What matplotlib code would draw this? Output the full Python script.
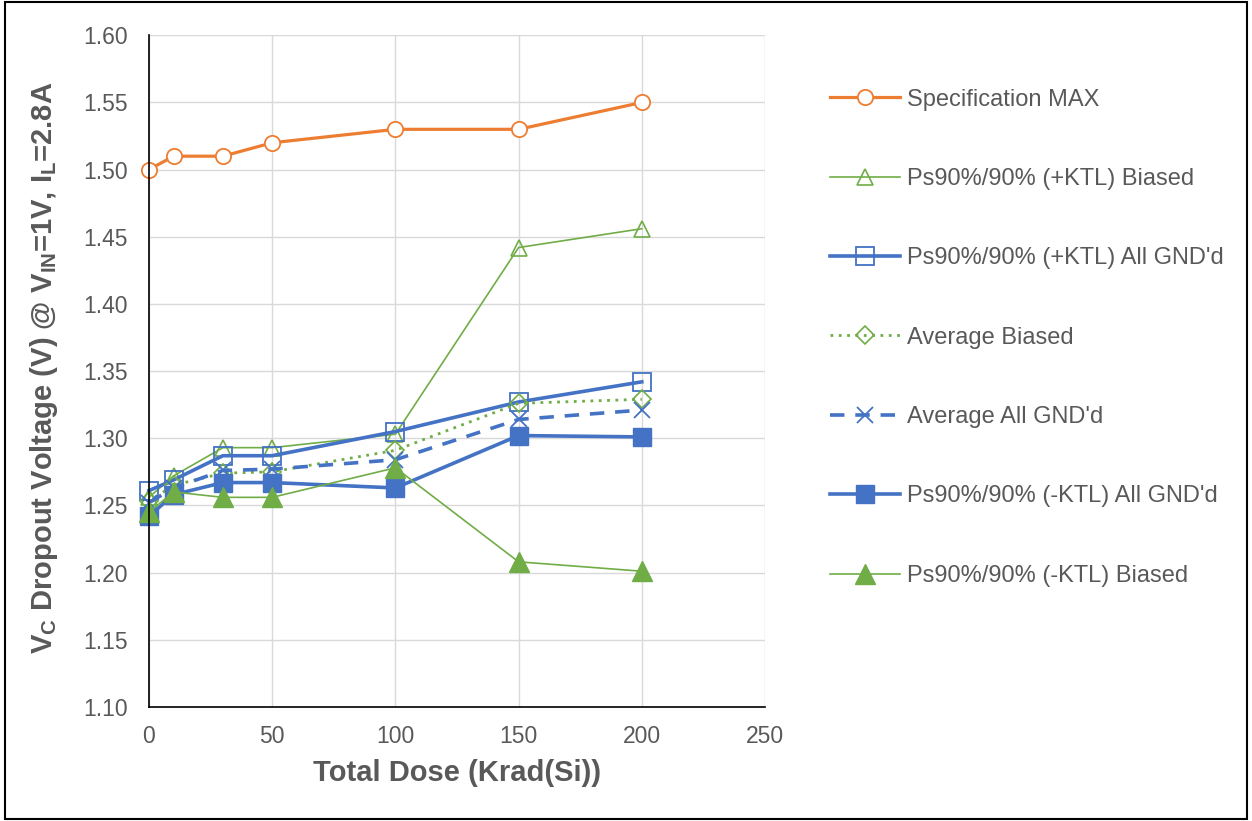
import matplotlib.pyplot as plt
from matplotlib.patches import Rectangle

plt.rcParams['font.family'] = ['Liberation Sans', 'DejaVu Sans']
plt.rcParams['mathtext.fontset'] = 'custom'
plt.rcParams['mathtext.bf'] = 'Liberation Sans:bold'
plt.rcParams['mathtext.rm'] = 'Liberation Sans'

dose = [0, 10, 30, 50, 100, 150, 200]

spec_max = [1.50, 1.51, 1.51, 1.52, 1.53, 1.53, 1.55]
ktl_plus_biased = [1.256, 1.272, 1.293, 1.293, 1.303, 1.442, 1.456]
ktl_plus_gnd = [1.261, 1.269, 1.287, 1.287, 1.305, 1.327, 1.342]
avg_biased = [1.253, 1.265, 1.274, 1.275, 1.291, 1.326, 1.329]
avg_gnd = [1.252, 1.263, 1.276, 1.277, 1.284, 1.314, 1.321]
ktl_minus_gnd = [1.242, 1.258, 1.267, 1.267, 1.263, 1.302, 1.301]
ktl_minus_biased = [1.245, 1.260, 1.256, 1.256, 1.278, 1.208, 1.201]

orange = '#ED7D31'
green = '#70AD47'
blue = '#4472C4'
grey = '#595959'

fig = plt.figure(figsize=(12.52, 8.21), dpi=100)
ax = fig.add_axes([0.119, 0.139, 0.492, 0.818])

ax.plot(dose, spec_max, color=orange, lw=2.3, marker='o', ms=11, mfc='white', mec=orange, mew=1.3,
        label='Specification MAX', clip_on=False)
ax.plot(dose, ktl_plus_biased, color=green, lw=1.2, marker='^', ms=12, mfc='none', mec=green, mew=1.2,
        label='Ps90%/90% (+KTL) Biased', clip_on=False)
ax.plot(dose, ktl_plus_gnd, color=blue, lw=2.6, marker='s', ms=12.5, mfc='none', mec=blue, mew=1.3,
        label="Ps90%/90% (+KTL) All GND'd", clip_on=False)
ax.plot(dose, avg_biased, color=green, lw=2.0, ls=(0, (1, 2)), marker='D', ms=9, mfc='none', mec=green,
        mew=1.2, label='Average Biased', clip_on=False)
ax.plot(dose, avg_gnd, color=blue, lw=2.6, ls=(0, (4, 3)), marker='x', ms=12, mec=blue, mew=1.3,
        label="Average All GND'd", clip_on=False)
ax.plot(dose, ktl_minus_gnd, color=blue, lw=2.6, marker='s', ms=13.5, mfc=blue, mec=blue,
        label="Ps90%/90% (-KTL) All GND'd", clip_on=False)
ax.plot(dose, ktl_minus_biased, color=green, lw=1.2, marker='^', ms=14.5, mfc=green, mec=green,
        label='Ps90%/90% (-KTL) Biased', clip_on=False)

ax.set_xlim(0, 250)
ax.set_ylim(1.10, 1.60)
ax.set_xticks(range(0, 251, 50))
ax.set_yticks([1.10 + 0.05 * i for i in range(11)])
ax.yaxis.set_major_formatter(plt.FormatStrFormatter('%.2f'))
ax.grid(axis='both', color='#D9D9D9', lw=1.0)
ax.set_axisbelow(True)
for s in ['top', 'right']:
    ax.spines[s].set_visible(False)
for s in ['left', 'bottom']:
    ax.spines[s].set_color('black')
    ax.spines[s].set_linewidth(1.2)
ax.tick_params(length=0, labelsize=16.5, labelcolor=grey)
ax.tick_params(axis='y', pad=15)
ax.tick_params(axis='x', pad=13)

ax.set_xlabel('Total Dose (Krad(Si))', fontsize=21, fontweight='bold', color=grey, labelpad=8)
ax.set_ylabel(r'V$_\mathbf{C}$ Dropout Voltage (V) @ V$_\mathbf{IN}$=1V, I$_\mathbf{L}$=2.8A',
              fontsize=21, fontweight='bold', color=grey, labelpad=14)
ax.yaxis.set_label_coords(-0.145, 0.505)

fig.legend(loc='upper left', bbox_to_anchor=(0.646, 0.918), frameon=False, fontsize=17,
           labelcolor=grey, labelspacing=2.43, handlelength=2.96, handletextpad=0.3)

fig.patches.append(Rectangle((0.004, 0.003), 0.992, 0.994, transform=fig.transFigure,
                             fill=False, ec='black', lw=1.5))

fig.savefig('out.png', dpi=100)
